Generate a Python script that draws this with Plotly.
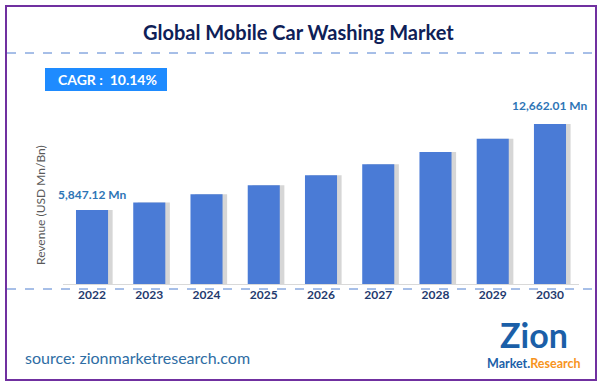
import plotly.graph_objects as go

years = ["2022", "2023", "2024", "2025", "2026", "2027", "2028", "2029", "2030"]
revenue = [5847.12, 6440, 7093, 7812, 8604, 9477, 10438, 11496, 12662.01]
first_label = "5,847.12 Mn"
last_label = "12,662.01 Mn"
title_text = "Global Mobile Car Washing Market"
cagr_text = "CAGR :  10.14%"
y_title = "Revenue (USD Mn/Bn)"
source_text = "source: zionmarketresearch.com"

W, H = 602, 386
def px(x):
    return x / W
def py(y):
    return 1 - y / H

FONT = "Lato"
BAR_W = 0.56

fig = go.Figure()
# shadow
fig.add_trace(go.Bar(x=years, y=revenue, width=BAR_W, offset=-BAR_W / 2 + 0.08,
                     marker=dict(color="rgba(90,90,90,0.25)", line=dict(width=0)),
                     hoverinfo="skip", showlegend=False))
fig.add_trace(go.Bar(x=years, y=revenue, width=BAR_W, offset=-BAR_W / 2,
                     marker=dict(color="#4A7BD6", line=dict(width=0)),
                     showlegend=False))

fig.update_layout(
    width=W, height=H,
    margin=dict(l=0, r=0, t=0, b=0, autoexpand=False),
    paper_bgcolor="white", plot_bgcolor="white",
    barmode="overlay",
    xaxis=dict(domain=[px(63.4), px(578.6)], range=[-0.5, len(years) - 0.5],
               showline=True, linecolor="#D9D9D9",
               linewidth=1, showgrid=False, ticks="", type="category", automargin=False,
               tickfont=dict(family=FONT, size=12, color="#1F3A6E", weight="bold")),
    yaxis=dict(domain=[py(284), py(104)], range=[0, 14240], showgrid=False,
               showticklabels=False, zeroline=False, showline=False, automargin=False),
    font=dict(family=FONT),
)

shapes = [
    dict(type="rect", xref="paper", yref="paper", x0=px(6), x1=px(596), y0=py(380), y1=py(6),
         line=dict(color="#7030A0", width=2), fillcolor="rgba(0,0,0,0)"),
    dict(type="line", xref="paper", yref="paper", x0=px(7), x1=px(596), y0=py(53), y1=py(53),
         line=dict(color="#4F7FD0", width=1, dash="dash")),
    dict(type="line", xref="paper", yref="paper", x0=px(7), x1=px(596), y0=py(289), y1=py(289),
         line=dict(color="#4F7FD0", width=1, dash="dash")),
    dict(type="rect", xref="paper", yref="paper", x0=px(45), x1=px(167), y0=py(91), y1=py(68),
         line=dict(width=0), fillcolor="#1E8BFF"),
]

def note(text, x, y, size, color, xanchor="center", **kw):
    return dict(text=text, xref="paper", yref="paper", x=px(x), y=py(y),
                xanchor=xanchor, yanchor="middle", showarrow=False,
                font=dict(family=FONT, size=size, color=color), **kw)

annotations = [
    note(f"<b>{title_text}</b>", 298, 32, 20, "#0E2057"),
    note(f"<b>{cagr_text}</b>", 56, 79.5, 14, "white", xanchor="left"),
    note(y_title, 40, 205, 12, "#595959", textangle=-90),
    note(source_text, 23, 357, 16, "#2E6DA4", xanchor="left"),
    note("<b>Zion</b>", 534, 334, 34, "#1B5FA8"),
    note("<b><span style='color:#1B5FA8'>Market.</span><span style='color:#F7941D'>Research</span></b>",
         534, 363, 12.5, "#1B5FA8"),
    dict(text=f"<b>{first_label}</b>", xref="x", yref="y", x=0, y=revenue[0],
         xanchor="center", yanchor="bottom", yshift=6, showarrow=False,
         font=dict(family=FONT, size=12, color="#2E75B6")),
    dict(text=f"<b>{last_label}</b>", xref="x", yref="y", x=len(years) - 1, y=revenue[-1],
         xanchor="center", yanchor="bottom", yshift=9, showarrow=False,
         font=dict(family=FONT, size=12, color="#2E75B6")),
]

fig.update_layout(shapes=shapes, annotations=annotations)
fig.write_html("out.html", config={"displayModeBar": False},
               post_script="document.body.style.margin='0';")
